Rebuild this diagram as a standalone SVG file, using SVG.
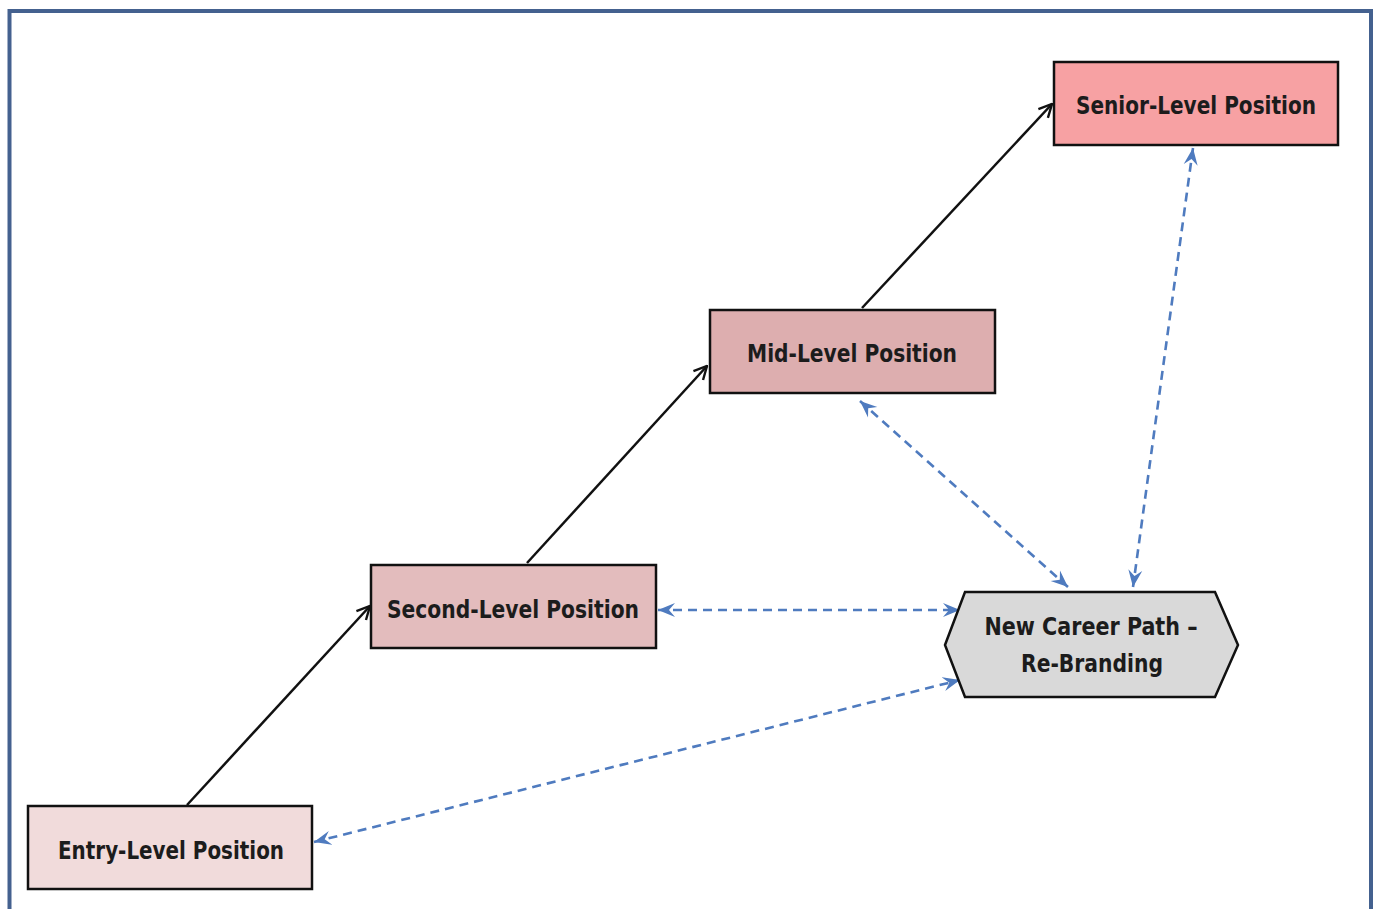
<svg xmlns="http://www.w3.org/2000/svg" width="1373" height="909" viewBox="0 0 1373 909">
<defs>
<style>
.box{stroke:#111;stroke-width:2.5}
.lbl{font-family:"DejaVu Sans Condensed","Liberation Sans",sans-serif;font-weight:bold;font-size:25px;fill:#1c1c1c;text-anchor:middle}
.solid{stroke:#111;stroke-width:2.5;fill:none;marker-end:url(#open)}
.dash{stroke:#4f7bbf;stroke-width:2.6;fill:none;stroke-dasharray:9 6;marker-start:url(#blueS);marker-end:url(#blueE)}
</style>
<marker id="open" viewBox="0 0 16 16" refX="15" refY="8" markerWidth="16" markerHeight="16" markerUnits="userSpaceOnUse" orient="auto">
<path d="M2,1.5 L15,8 L2,14.5" fill="none" stroke="#111" stroke-width="2.4"/>
</marker>
<marker id="blueE" viewBox="0 0 18 16" refX="17" refY="8" markerWidth="18" markerHeight="16" markerUnits="userSpaceOnUse" orient="auto">
<path d="M0,1 L17,8 L0,15 L6,8 Z" fill="#4f7bbf"/>
</marker>
<marker id="blueS" viewBox="0 0 18 16" refX="1" refY="8" markerWidth="18" markerHeight="16" markerUnits="userSpaceOnUse" orient="auto">
<path d="M18,1 L1,8 L18,15 L12,8 Z" fill="#4f7bbf"/>
</marker>
</defs>
<rect width="1373" height="909" fill="#fff"/>
<path d="M9.5,915 L9.5,11 L1371,11 L1371,915" fill="none" stroke="#44618f" stroke-width="4"/>
<g id="connectors">
<line class="solid" x1="187" y1="805" x2="370" y2="606"/>
<line class="solid" x1="527" y1="563" x2="707" y2="366"/>
<line class="solid" x1="862" y1="308" x2="1052" y2="104"/>
<line class="dash" x1="658" y1="610" x2="960" y2="610"/>
<line class="dash" x1="314" y1="842" x2="960" y2="680"/>
<line class="dash" x1="860" y1="401" x2="1068" y2="587"/>
<line class="dash" x1="1193" y1="148" x2="1133" y2="587"/>
</g>
<g id="senior">
<rect class="box" x="1054" y="62" width="284" height="83" fill="#f7a1a3"/>
<text class="lbl" x="1196" y="114" textLength="240" lengthAdjust="spacingAndGlyphs">Senior-Level Position</text>
</g>
<g id="mid">
<rect class="box" x="710" y="310" width="285" height="83" fill="#ddaeaf"/>
<text class="lbl" x="852" y="362" textLength="210" lengthAdjust="spacingAndGlyphs">Mid-Level Position</text>
</g>
<g id="second">
<rect class="box" x="371" y="565" width="285" height="83" fill="#e3bcbd"/>
<text class="lbl" x="513" y="618" textLength="252" lengthAdjust="spacingAndGlyphs">Second-Level Position</text>
</g>
<g id="entry">
<rect class="box" x="28" y="806" width="284" height="83" fill="#f1dbdb"/>
<text class="lbl" x="171" y="859" textLength="226" lengthAdjust="spacingAndGlyphs">Entry-Level Position</text>
</g>
<g id="newcareer">
<polygon class="box" points="945,645 965,592 1215,592 1238,645 1215,697 965,697" fill="#d9d9d9"/>
<text class="lbl" x="1091" y="635" textLength="213" lengthAdjust="spacingAndGlyphs">New Career Path –</text>
<text class="lbl" x="1092" y="672" textLength="142" lengthAdjust="spacingAndGlyphs">Re-Branding</text>
</g>
</svg>
